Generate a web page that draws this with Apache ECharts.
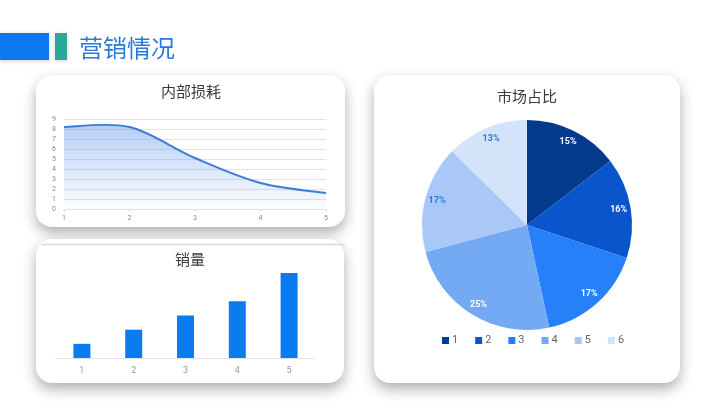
<!DOCTYPE html>
<html><head><meta charset="utf-8">
<script src="https://cdn.jsdelivr.net/npm/echarts@6/dist/echarts.min.js"></script>
<style>html,body{margin:0;padding:0;background:#fff}#c{width:720px;height:405px}</style>
</head><body><div id="c"></div>
<script>
const pageTitle = '营销情况';
const lossTitle = '内部损耗';
const salesTitle = '销量';
const shareTitle = '市场占比';

const lossCategories = ['1','2','3','4','5'];
const lossValues = [8.2, 8.2, 5.1, 2.6, 1.6];

const salesCategories = ['1','2','3','4','5'];
const salesValues = [1, 2, 3, 4, 6];

const shareNames = ['1','2','3','4','5','6'];
const shareValues = [15, 16, 17, 25, 17, 13];
const shareColors = ['#033a8c','#0b55cc','#2680f8','#74aaf4','#a9c8f7','#d3e3fa'];
const shareLabelColors = ['#fff','#fff','#fff','#fff','#2f78dc','#2f78dc'];

const FONT = 'Roboto, "Noto Sans CJK SC", sans-serif';
const chart = echarts.init(document.getElementById('c'));

function card(x, y, w, h) {
  return { type: 'rect', shape: { x: x, y: y, width: w, height: h, r: 16 },
    style: { fill: '#fff', shadowBlur: 14, shadowOffsetY: 6, shadowColor: 'rgba(0,0,0,0.32)' }, z: 0 };
}
function ttl(text, x, y) {
  return { type: 'text', x: x, y: y, z: 5,
    style: { text: text, fill: '#3a3a3a', font: '15px "Noto Sans CJK SC"', textAlign: 'center', textVerticalAlign: 'middle' } };
}

// Catmull-Rom style smooth curve through the data points (converted by the axes)
function smoothLossRender(params, api) {
  if (params.dataIndex !== 0) return null;
  const pts = lossValues.map((v, i) => api.coord([i, v]));
  const baseY = api.coord([0, 0])[1];
  let d = 'M' + pts[0][0] + ' ' + pts[0][1];
  for (let i = 0; i < pts.length - 1; i++) {
    const p0 = pts[Math.max(i - 1, 0)], p1 = pts[i], p2 = pts[i + 1], p3 = pts[Math.min(i + 2, pts.length - 1)];
    const c1x = p1[0] + (p2[0] - p0[0]) / 6, c1y = p1[1] + (p2[1] - p0[1]) / 6;
    const c2x = p2[0] - (p3[0] - p1[0]) / 6, c2y = p2[1] - (p3[1] - p1[1]) / 6;
    d += ' C' + c1x + ' ' + c1y + ' ' + c2x + ' ' + c2y + ' ' + p2[0] + ' ' + p2[1];
  }
  const last = pts[pts.length - 1];
  const area = d + ' L' + last[0] + ' ' + baseY + ' L' + pts[0][0] + ' ' + baseY + ' Z';
  return { type: 'group', children: [
    { type: 'path', shape: { pathData: area },
      style: { fill: new echarts.graphic.LinearGradient(0, 0, 0, 1, [
        { offset: 0, color: 'rgba(80,140,230,0.42)' }, { offset: 1, color: 'rgba(80,140,230,0.02)' }]), stroke: null } },
    { type: 'path', shape: { pathData: d },
      style: { fill: null, stroke: '#3a7cd8', lineWidth: 2 } }
  ] };
}

chart.setOption({
  animation: false,
  textStyle: { fontFamily: FONT },
  graphic: [
    { type: 'rect', shape: { x: 0, y: 33, width: 49, height: 27 }, style: { fill: '#0a78f0', shadowBlur: 4, shadowOffsetY: 1, shadowColor: 'rgba(0,0,0,0.2)' } },
    { type: 'rect', shape: { x: 55, y: 33, width: 12, height: 27 }, style: { fill: '#2aa996', shadowBlur: 4, shadowOffsetY: 1, shadowColor: 'rgba(0,0,0,0.2)' } },
    { type: 'text', x: 79, y: 48, style: { text: pageTitle, fill: '#2a7ad8', font: '24px "Noto Sans CJK SC"', textVerticalAlign: 'middle' } },
    card(36, 75, 309, 152),
    card(36, 239, 308, 144),
    card(374, 75, 306, 308),
    { type: 'line', shape: { x1: 41, y1: 244.5, x2: 345, y2: 244.5 }, style: { stroke: '#dcdcdc', lineWidth: 1.5 }, z: 1 },
    ttl(lossTitle, 191, 91),
    ttl(salesTitle, 190, 259),
    ttl(shareTitle, 527, 96)
  ],
  grid: [
    { left: 64, top: 119, width: 262, height: 90 },
    { left: 56, top: 273, width: 259, height: 85 }
  ],
  xAxis: [
    { gridIndex: 0, type: 'category', data: lossCategories, boundaryGap: false,
      axisLine: { lineStyle: { color: '#e0e0e0' } }, axisTick: { length: 3, lineStyle: { color: '#e0e0e0' } },
      axisLabel: { color: '#888', fontSize: 7, margin: 6 } },
    { gridIndex: 1, type: 'category', data: salesCategories,
      axisLine: { lineStyle: { color: '#dde3ea' } }, axisTick: { length: 3, lineStyle: { color: '#dde3ea' } },
      axisLabel: { color: '#999', fontSize: 9, margin: 8 } }
  ],
  yAxis: [
    { gridIndex: 0, type: 'value', min: 0, max: 9, interval: 1,
      axisLine: { show: false }, axisTick: { show: false },
      splitLine: { lineStyle: { color: '#e3e3e3' } },
      axisLabel: { color: '#888', fontSize: 7, margin: 8 } },
    { gridIndex: 1, type: 'value', min: 0, max: 6, show: false, splitLine: { show: false } }
  ],
  legend: {
    data: shareNames, left: 437, top: 330, icon: 'rect', itemWidth: 7, itemHeight: 7, itemGap: 17,
    textStyle: { color: '#666', fontSize: 11, padding: [0, 0, 0, -2] }
  },
  series: [
    { type: 'custom', xAxisIndex: 0, yAxisIndex: 0, data: lossValues, renderItem: smoothLossRender, silent: true },
    { type: 'bar', xAxisIndex: 1, yAxisIndex: 1, data: salesValues, barWidth: 17,
      itemStyle: { color: '#0a7cf0' } },
    { type: 'pie', center: [527, 225], radius: [0, 105], startAngle: 90, clockwise: true,
      data: shareNames.map((n, i) => ({ name: n, value: shareValues[i], itemStyle: { color: shareColors[i] } })),
      label: { show: false }, labelLine: { show: false }, emphasis: { disabled: true } },
    { type: 'pie', center: [527, 225], radius: [75, 105], startAngle: 90, clockwise: true, silent: true,
      legendHoverLink: false, z: 3,
      data: shareNames.map((n, i) => ({ name: n, value: shareValues[i],
        itemStyle: { color: 'rgba(0,0,0,0)' },
        label: { color: shareLabelColors[i] } })),
      label: { show: true, position: 'inside', formatter: '{c}%', fontSize: 9, fontWeight: 'bold' },
      labelLine: { show: false }, emphasis: { disabled: true } }
  ]
});
</script></body></html>
